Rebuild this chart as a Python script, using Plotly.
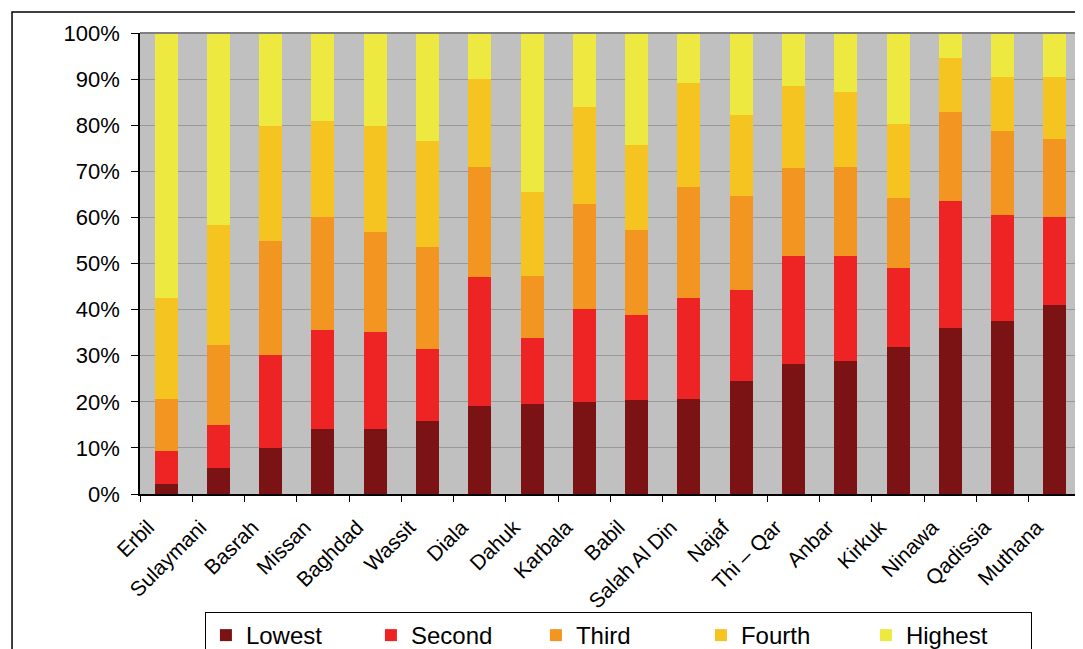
import plotly.graph_objects as go

governorates = ["Erbil", "Sulaymani", "Basrah", "Missan", "Baghdad", "Wassit", "Diala",
                "Dahuk", "Karbala", "Babil", "Salah Al Din", "Najaf", "Thi \u2013 Qar",
                "Anbar", "Kirkuk", "Ninawa", "Qadissia", "Muthana"]

lowest  = [2.2, 5.6, 10.0, 14.1, 14.1, 15.8, 19.1, 19.5, 20.0, 20.4, 20.6, 24.5, 28.2, 28.9, 31.9, 36.0, 37.5, 41.0]
second  = [7.1, 9.4, 20.2, 21.5, 21.0, 15.7, 28.0, 14.3, 20.1, 18.4, 21.9, 19.8, 23.4, 22.7, 17.1, 27.6, 23.0, 19.1]
third   = [11.3, 17.3, 24.7, 24.5, 21.7, 22.1, 23.8, 13.5, 22.8, 18.5, 24.1, 20.3, 19.1, 19.3, 15.2, 19.3, 18.2, 16.9]
fourth  = [21.9, 26.1, 24.9, 20.8, 23.0, 23.0, 19.1, 18.2, 21.0, 18.4, 22.6, 17.6, 17.8, 16.3, 16.1, 11.7, 11.8, 13.5]
highest = [57.5, 41.6, 20.2, 19.1, 20.2, 23.4, 10.0, 34.5, 16.1, 24.3, 10.8, 17.8, 11.5, 12.8, 19.7, 5.4, 9.5, 9.5]

series_names = ["Lowest", "Second", "Third", "Fourth", "Highest"]
series_values = [lowest, second, third, fourth, highest]
series_colors = ["#7B1214", "#EE2424", "#F39621", "#F5C421", "#EEE940"]
y_tick_values = [0, 10, 20, 30, 40, 50, 60, 70, 80, 90, 100]
y_tick_labels = ["0%", "10%", "20%", "30%", "40%", "50%", "60%", "70%", "80%", "90%", "100%"]

fig = go.Figure()
for name, vals, col in zip(series_names, series_values, series_colors):
    fig.add_trace(go.Bar(name=name, x=governorates, y=vals, marker=dict(color=col, line=dict(width=0))))

FONT = "Liberation Sans"
fig.update_layout(
    barmode="stack",
    bargap=0.56,
    width=1075, height=641,
    margin=dict(l=132, r=2, t=25, b=155, autoexpand=False),
    paper_bgcolor="white",
    plot_bgcolor="#C0C0C0",
    font=dict(family=FONT, size=20, color="black"),
    showlegend=True,
    legend=dict(
        orientation="h",
        x=0.069, xanchor="left",
        y=-0.256, yanchor="top",
        bordercolor="black", borderwidth=1,
        bgcolor="white",
        font=dict(family=FONT, size=24, color="black"),
        entrywidth=120, entrywidthmode="pixels",
        traceorder="normal",
        tracegroupgap=0,
    ),
    xaxis=dict(
        type="category",
        tickangle=-45,
        tickson="boundaries",
        ticks="outside", ticklen=6, tickcolor="black", tickwidth=1,
        showline=True, linecolor="black", linewidth=1.5,
        showgrid=False,
        automargin=False,
        ticklabelshift=-18,
        ticklabelstandoff=11,
        tickfont=dict(family=FONT, size=21, color="black"),
        fixedrange=True,
    ),
    yaxis=dict(
        range=[0, 100],
        tickmode="array",
        tickvals=y_tick_values,
        ticktext=y_tick_labels,
        ticks="outside", ticklen=7, tickcolor="black", tickwidth=1,
        showline=True, linecolor="black", linewidth=1.5,
        showgrid=True, gridcolor="#999999", gridwidth=1,
        zeroline=False,
        automargin=False,
        ticklabelstandoff=7,
        tickfont=dict(family=FONT, size=22, color="black"),
        fixedrange=True,
    ),
    shapes=[
        dict(type="line", xref="paper", yref="paper", x0=0, x1=1, y0=1, y1=1,
             line=dict(color="#808080", width=2)),
        dict(type="line", xref="paper", yref="paper", x0=1, x1=1, y0=0, y1=1,
             line=dict(color="#808080", width=2)),
        dict(type="rect", xref="paper", yref="paper", x0=-0.136, x1=1.05, y0=-0.6, y1=1.0456,
             line=dict(color="black", width=1.5), fillcolor="rgba(0,0,0,0)", layer="below"),
    ],
)

fig.write_html("out.html")
